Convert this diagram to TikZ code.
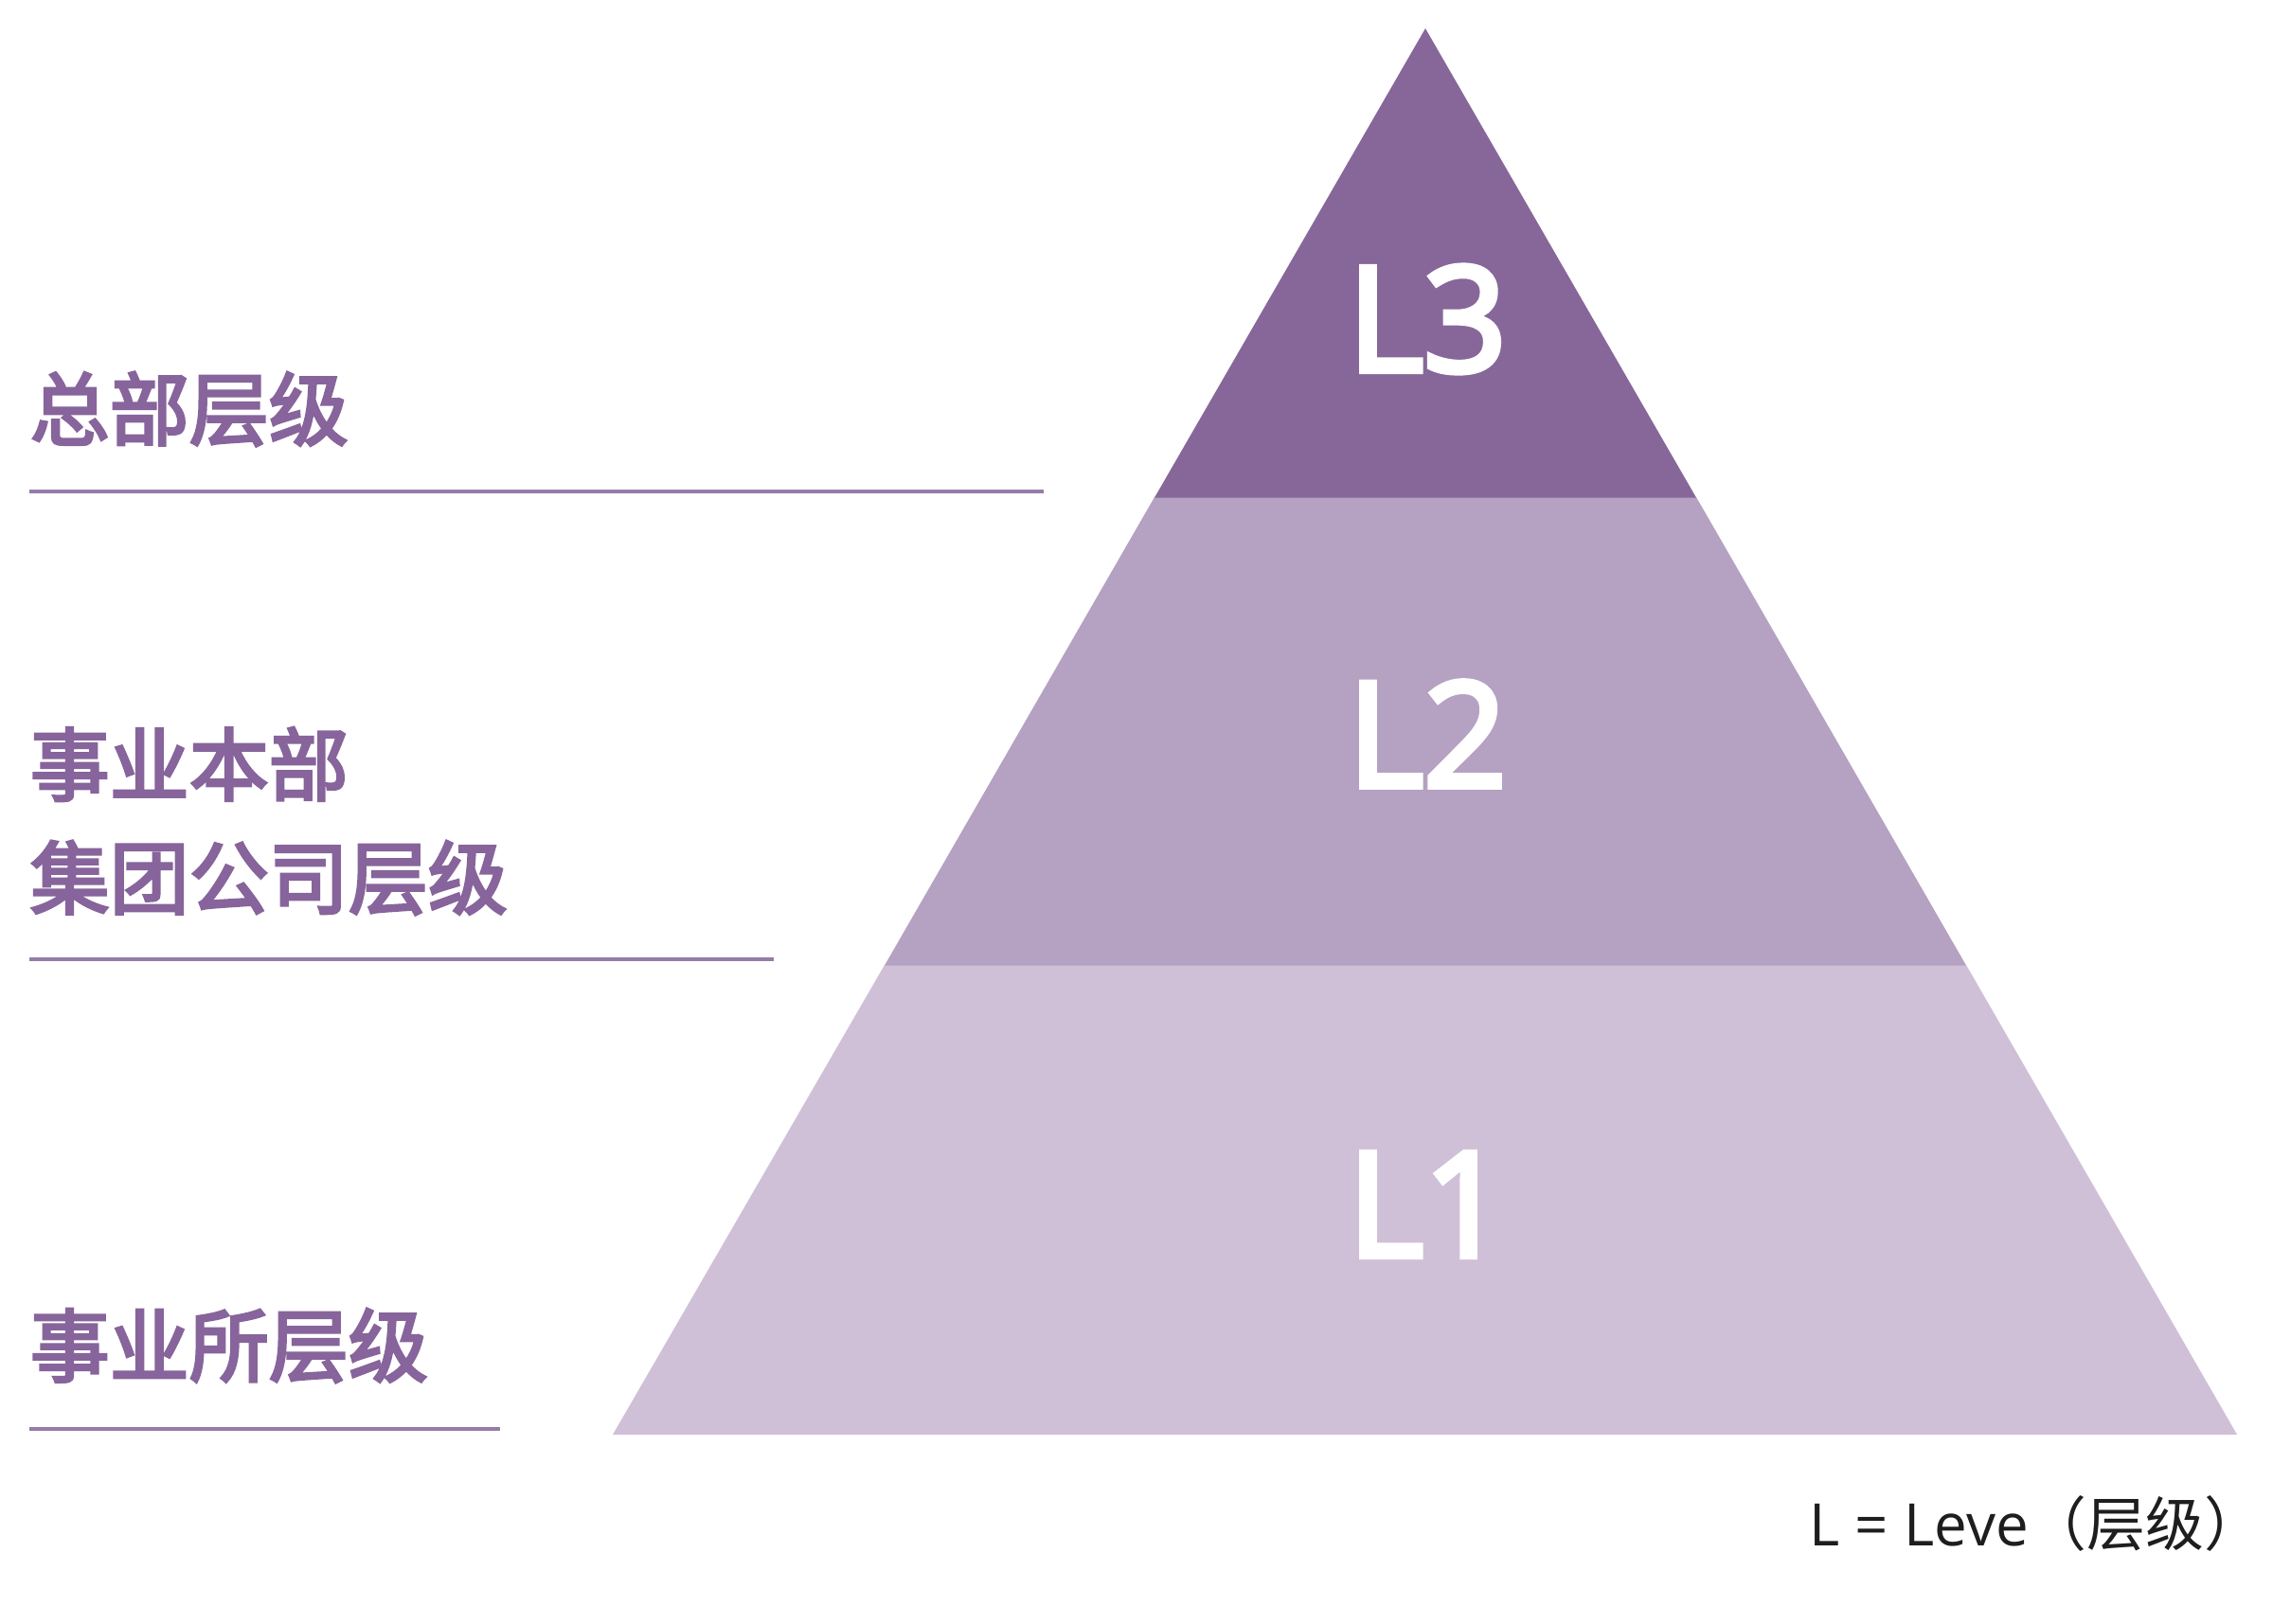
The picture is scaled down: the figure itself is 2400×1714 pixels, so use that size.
\documentclass[tikz,border=0pt]{standalone}
\usepackage{fontspec}
\newfontfamily\cjk[FakeBold=3.5]{Noto Sans CJK SC}
\newfontfamily\cjknote{Noto Sans CJK SC}
\newfontfamily\latin{Open Sans}
\newfontfamily\latinsemi[FakeBold=4]{Open Sans}
\definecolor{lvthree}{RGB}{135,103,153}
\definecolor{lvtwo}{RGB}{181,161,194}
\definecolor{lvone}{RGB}{207,192,216}
\definecolor{labelpurple}{RGB}{135,100,155}
\definecolor{rulepurple}{RGB}{150,124,168}
\definecolor{notegray}{RGB}{30,30,30}
\begin{document}
\begin{tikzpicture}[x=0.01cm,y=-0.01cm,
  band/.style={draw=none},
  levellabel/.style={text=white,font=\latinsemi\fontsize{43.8}{53}\selectfont,inner sep=0pt,anchor=center},
  sidelabel/.style={text=labelpurple,font=\cjk\fontsize{23.9}{29}\selectfont,inner sep=0pt,anchor=west},
  siderule/.style={draw=rulepurple,line width=1.3pt}]
\useasboundingbox (0,0) rectangle (2400,1714);
\fill[white] (0,0) rectangle (2400,1714);
% bands
\fill[lvone,band] (647,1515) -- (2362,1515) -- (2076,1019) -- (934,1019) -- cycle;
\fill[lvtwo,band] (934,1019.5) -- (2076,1019.5) -- (1791,525) -- (1219,525) -- cycle;
\fill[lvthree,band] (1219,525.5) -- (1791,525.5) -- (1505,30) -- cycle;
% level labels
\node[levellabel] (l3) at (1507,337) {L3};
\node[levellabel] (l2) at (1507,775) {L2};
\node[levellabel] (l1) at (1507,1272) {L1};
% side labels
\node[sidelabel] (hq) at (31,432) {总部层级};
\node[sidelabel] (bu1) at (31,807) {事业本部};
\node[sidelabel] (bu2) at (31,927) {集团公司层级};
\node[sidelabel] (office) at (31,1421) {事业所层级};
% rules
\draw[siderule] (31,519) -- (1102,519);
\draw[siderule] (31,1013) -- (817,1013);
\draw[siderule] (31,1509) -- (528,1509);
% note
\node[text=notegray,inner sep=0pt,anchor=west,font=\fontsize{17.6}{21}\selectfont] (note) at (1910,1609) {{\latin L = Leve}{\cjknote（层级）}};
\end{tikzpicture}
\end{document}
